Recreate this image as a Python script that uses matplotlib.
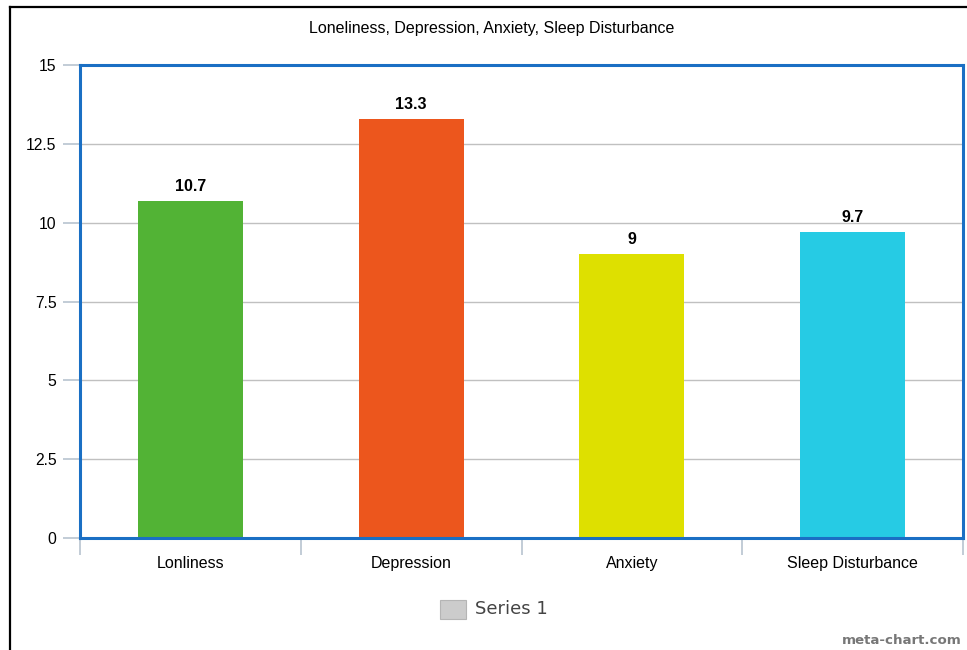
import matplotlib.pyplot as plt
from matplotlib.lines import Line2D
from matplotlib.patches import Rectangle

categories = ["Lonliness", "Depression", "Anxiety", "Sleep Disturbance"]
values = [10.7, 13.3, 9, 9.7]
bar_colors = ["#52B335", "#EC561D", "#DEE000", "#26CBE4"]
y_ticks = [0, 2.5, 5, 7.5, 10, 12.5, 15]
y_tick_labels = ["0", "2.5", "5", "7.5", "10", "12.5", "15"]
title = "Loneliness, Depression, Anxiety, Sleep Disturbance"
series_name = "Series 1"

W, H = 967, 650
fig = plt.figure(figsize=(W / 100, H / 100), dpi=100)
fig.patch.set_facecolor("white")

# outer frame lines (left and top)
fig.add_artist(Line2D([9.5 / W, 9.5 / W], [0, 1 - 6.5 / H], color="black", lw=1.6))
fig.add_artist(Line2D([9.5 / W, 1], [1 - 6.5 / H, 1 - 6.5 / H], color="black", lw=1.6))

left, right, top, bottom = 80, 963, 65, 538
ax = fig.add_axes([left / W, 1 - bottom / H, (right - left) / W, (bottom - top) / H])

x = list(range(len(categories)))
ax.bar(x, values, width=0.475, color=bar_colors, zorder=3)

for xi, v in zip(x, values):
    lbl = f"{v:g}"
    ax.annotate(lbl, (xi, v), xytext=(0, 5), textcoords="offset points",
                ha="center", va="bottom", fontsize=11.5, fontweight="bold",
                color="black", family="Liberation Sans", zorder=4)

ax.set_xlim(-0.5, len(categories) - 0.5)
ax.set_ylim(0, 15)

ax.set_yticks(y_ticks)
ax.set_yticklabels(y_tick_labels, family="Liberation Sans", fontsize=11.3)
ax.yaxis.grid(True, color="#C0C0C0", lw=1.0, zorder=0)
ax.set_axisbelow(True)

ax.set_xticks(x)
ax.set_xticklabels(categories, family="Liberation Sans", fontsize=11.5)
ax.set_xticks([i - 0.5 for i in range(len(categories) + 1)], minor=True)
ax.tick_params(axis="x", which="major", length=0, pad=13)
ax.tick_params(axis="x", which="minor", length=12, width=1.2, color="#B8C4D0")
ax.tick_params(axis="y", which="major", length=12, width=1.2, color="#B8C4D0", pad=5)

for s in ax.spines.values():
    s.set_color("#1A6FC4")
    s.set_linewidth(2.2)
    s.set_zorder(5)

fig.text(492 / W, 1 - 29 / H, title, ha="center", va="center",
         fontsize=11.5, family="Liberation Sans", color="black")

# legend
fig.add_artist(Rectangle((440 / W, 1 - 619 / H), 26 / W, 19 / H,
                         facecolor="#CCCCCC", edgecolor="#B5B5B5", lw=0.8))
fig.text(475 / W, 1 - 609 / H, series_name, ha="left", va="center",
         fontsize=13, family="DejaVu Sans", color="#444444")

fig.text(962 / W, 1 - 640 / H, "meta-chart.com", ha="right", va="center",
         fontsize=9.6, family="DejaVu Sans", fontweight="bold", color="#777777")

fig.savefig("out.png", dpi=100)
